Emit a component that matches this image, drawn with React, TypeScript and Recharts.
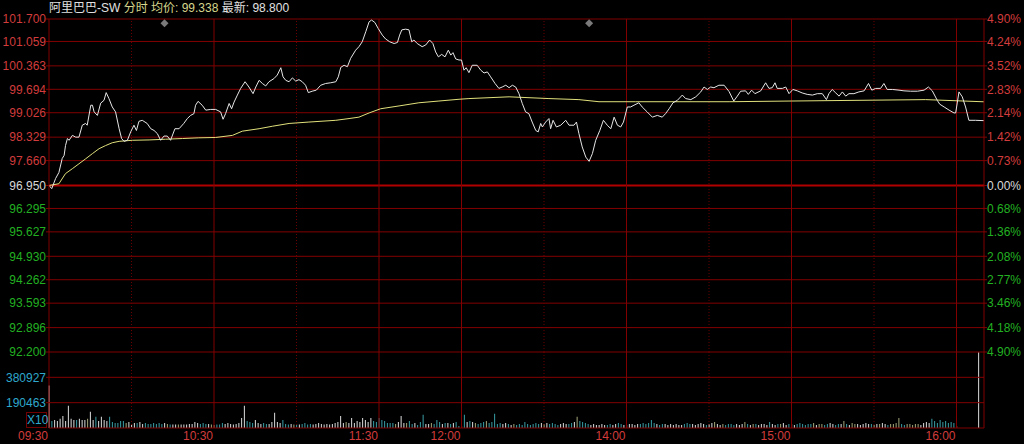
import {
  Bar,
  BarChart,
  Cell,
  ComposedChart,
  Line,
  ReferenceLine,
  Scatter,
  XAxis,
  YAxis,
} from "recharts";

// 分时图：阿里巴巴-SW，昨收 96.950
const prevClose = 96.95;
const avgNow = "99.338";
const lastNow = "98.800";

const priceTicks = [
  101.7, 101.059, 100.363, 99.694, 99.026, 98.329, 97.66, 96.95, 96.295, 95.627,
  94.93, 94.262, 93.593, 92.896, 92.2,
];
const volTicks = [190463, 380927];
const volMax = 571390;

// minutes since 09:30 (lunch break removed: 12:00 == 13:00 == 150)
const timeTicks = [0, 60, 120, 150, 210, 270, 330];
const timeLabels = ["09:30", "10:30", "11:30", "12:00", "14:00", "15:00", "16:00"];
const halfHourTicks = [30, 90, 180, 240, 300];
const eventMinutes = [42, 196.4];
const auctionMinute = 338;

const priceMinutes = [
  0, 1, 2.4, 3.6, 4.8, 5.5, 6, 6.7, 7.3, 8.5, 9.7, 10.9, 12.1, 13.3, 13.9, 15.2, 15.8,
  16.4, 17.6, 18.8, 20, 20.8, 21.8, 23, 24.2, 25.5, 26.4, 27.3, 28.5, 29.7, 30.9, 31.8,
  32.7, 33.9, 35.7, 37, 38.2, 39.4, 40.6, 41.8, 43, 44.2, 45.8, 47.3, 49, 50.3, 51.5,
  52.7, 53.3, 54.2, 55.7, 57, 58.8, 60.6, 62.4, 63.3, 64.2, 65.5, 66.4, 67.3, 68.5,
  69.7, 71.3, 72.7, 74.2, 75.2, 76.4, 77.6, 78.8, 80, 81.8, 83, 84.3, 85.1, 86.1, 87.3,
  88.5, 89.7, 90.9, 92.1, 93.3, 94.3, 95.7, 97.2, 98.8, 100.6, 102.4, 104.3, 105.2,
  106.1, 107.3, 108.5, 109.7, 111.5, 112.7, 113.9, 115.2, 116.4, 117.3, 118.5, 119.7,
  121.2, 122.4, 123.9, 125.5, 126.7, 127.5, 128.3, 129.7, 130.9, 131.9, 132.7, 133.9,
  135.7, 137, 138.4, 139.6, 140.6, 141.6, 142.8, 144, 145.2, 146.1, 146.9, 147.9, 149.1,
  150, 150.9, 151.7, 152.7, 153.9, 155.7, 157, 158.2, 159.4, 160.6, 162.2, 163.6, 164.8,
  166.1, 167.3, 168.5, 169.7, 170.9, 172.1, 173.3, 174.5, 175.7, 177, 177.9, 178.8,
  179.4, 180.6, 181.8, 182.4, 183.3, 184.5, 186.1, 187.9, 189.1, 190.9, 191.8, 192.7,
  193.9, 195.2, 196.4, 197.6, 198.8, 200.3, 201.6, 203, 204.3, 205.5, 206.7, 207.9,
  208.9, 210.3, 211.5, 212.7, 214.5, 215.7, 217.5, 219.4, 221.2, 223, 224.2, 225.5,
  226.9, 228.5, 230.3, 231.5, 233.4, 235.2, 237, 238.2, 239.4, 240.6, 241.8, 243.6,
  245.5, 247.3, 249, 250.3, 251.5, 253.3, 254.3, 255.5, 256.7, 258.8, 260.6, 261.8, 263,
  264, 264.8, 266.7, 267.9, 269.1, 270.5, 272.1, 273.9, 275.7, 277.6, 279.4, 281.2,
  282.7, 283.6, 284.8, 286.1, 287.3, 288.5, 289.7, 290.9, 292.7, 294.5, 296.4, 298,
  299.2, 300.6, 302.4, 303.6, 304.8, 306.7, 309.1, 310.9, 313.3, 315.8, 318.2, 319.8,
  321.2, 323, 323.9, 325.5, 327.3, 329.1, 329.7, 330.9, 332.1, 333.3, 334.5, 336.9, 340,
];
const priceValues = [
  96.95, 96.86, 97.15, 97.32, 97.72, 97.81, 98.09, 98.29, 98.24, 98.38, 98.33, 98.33,
  98.67, 98.72, 98.67, 99.24, 99.24, 99.05, 98.95, 99.3, 99.38, 99.6, 99.43, 99.19,
  99.05, 98.57, 98.29, 98.21, 98.24, 98.48, 98.67, 98.52, 98.78, 98.81, 98.72, 98.57,
  98.52, 98.43, 98.24, 98.36, 98.36, 98.24, 98.57, 98.57, 98.72, 98.86, 98.95, 99.0,
  99.24, 99.35, 99.24, 99.1, 99.12, 99.12, 99.05, 98.84, 99.0, 99.29, 99.14, 99.33,
  99.53, 99.72, 99.91, 99.76, 99.57, 99.76, 99.95, 99.86, 99.79, 99.91, 100.0, 100.1,
  100.31, 100.05, 99.95, 99.91, 100.02, 99.93, 99.97, 99.91, 99.81, 99.6, 99.64, 99.67,
  99.81, 99.86, 99.88, 99.91, 100.05, 100.32, 100.38, 100.34, 100.58, 100.81, 100.91,
  101.05, 101.34, 101.62, 101.67, 101.6, 101.43, 101.24, 101.13, 101.05, 101.0, 101.03,
  101.24, 101.39, 101.41, 101.39, 101.05, 101.1, 101.0, 100.91, 100.96, 101.1, 101.0,
  100.76, 100.62, 100.69, 100.62, 100.81, 100.67, 100.74, 100.56, 100.53, 100.53,
  100.24, 100.31, 100.17, 100.38, 100.38, 100.24, 100.16, 100.19, 100.05, 99.86, 99.72,
  99.76, 99.81, 99.74, 99.81, 99.76, 99.57, 99.29, 99.05, 99.0, 98.76, 98.52, 98.48,
  98.72, 98.62, 98.76, 98.86, 98.57, 98.81, 98.62, 98.67, 98.81, 98.67, 98.67, 98.76,
  98.43, 98.05, 97.76, 97.64, 97.86, 98.24, 98.52, 98.81, 98.67, 98.57, 98.9, 98.67,
  98.62, 98.76, 99.19, 99.19, 99.24, 99.31, 99.19, 99.05, 98.9, 98.95, 98.9, 99.0,
  99.14, 99.31, 99.38, 99.53, 99.43, 99.4, 99.48, 99.62, 99.76, 99.69, 99.76, 99.74,
  99.81, 99.81, 99.63, 99.36, 99.5, 99.64, 99.65, 99.55, 99.67, 99.57, 99.65, 99.88,
  99.72, 99.74, 99.88, 99.72, 99.72, 99.76, 99.57, 99.69, 99.65, 99.59, 99.55, 99.53,
  99.57, 99.57, 99.4, 99.57, 99.69, 99.59, 99.5, 99.62, 99.5, 99.57, 99.57, 99.62,
  99.65, 99.86, 99.67, 99.72, 99.72, 99.86, 99.69, 99.69, 99.67, 99.65, 99.64, 99.64,
  99.67, 99.76, 99.65, 99.38, 99.27, 99.19, 99.1, 99.02, 99.02, 99.62, 99.48, 99.19,
  98.81, 98.81, 98.8,
];

const avgMinutes = [
  0, 3.6, 6, 8.5, 10.9, 13.3, 15.8, 18.2, 20.6, 23, 25.5, 30.3, 36.4, 42.4, 48.5, 54.5,
  60.6, 66.7, 70.3, 76.4, 81.2, 87.3, 94.5, 104.3, 109.1, 112.7, 116.4, 120.6, 127.3,
  134.5, 141.8, 149.1, 152.7, 167.3, 181.8, 192.7, 200, 213.3, 247.3, 270, 318.8, 340,
];
const avgValues = [
  96.95, 97.0, 97.29, 97.43, 97.57, 97.71, 97.86, 98.0, 98.09, 98.17, 98.21, 98.24,
  98.25, 98.27, 98.29, 98.31, 98.32, 98.38, 98.5, 98.57, 98.64, 98.72, 98.76, 98.81,
  98.86, 98.9, 99.02, 99.14, 99.22, 99.31, 99.36, 99.41, 99.43, 99.48, 99.43, 99.4,
  99.34, 99.34, 99.34, 99.36, 99.4, 99.338,
];

// one bar per minute, 09:30 .. 16:10
const volumes = [
  320000, 53000, 61000, 53000, 69000, 91000, 53000, 168000, 69000, 61000,
  61000, 69000, 61000, 61000, 69000, 122000, 61000, 84000, 53000, 84000,
  61000, 53000, 84000, 46000, 38000, 38000, 53000, 53000, 38000, 46000,
  30000, 38000, 38000, 46000, 30000, 38000, 30000, 30000, 38000, 30000,
  38000, 30000, 38000, 30000, 27000, 27000, 27000, 27000, 27000, 27000,
  27000, 30000, 30000, 46000, 38000, 30000, 38000, 30000, 30000, 27000,
  23000, 27000, 27000, 38000, 30000, 38000, 30000, 27000, 30000, 38000,
  76000, 168000, 53000, 46000, 38000, 61000, 38000, 30000, 38000, 30000,
  30000, 46000, 114000, 46000, 38000, 61000, 30000, 27000, 30000, 27000,
  30000, 27000, 30000, 38000, 27000, 30000, 27000, 30000, 38000, 30000,
  27000, 30000, 27000, 30000, 38000, 46000, 91000, 38000, 46000, 38000,
  76000, 38000, 53000, 46000, 76000, 61000, 46000, 76000, 53000, 46000,
  76000, 61000, 53000, 38000, 38000, 38000, 30000, 46000, 91000, 38000,
  38000, 53000, 30000, 38000, 23000, 46000, 99000, 30000, 30000, 38000,
  30000, 61000, 46000, 30000, 38000, 38000, 30000, 38000, 46000, 15000,
  15000, 99000, 46000, 53000, 46000, 38000, 30000, 38000, 46000, 53000,
  38000, 46000, 107000, 30000, 38000, 30000, 38000, 30000, 23000, 30000,
  23000, 30000, 23000, 46000, 30000, 23000, 30000, 38000, 30000, 38000,
  30000, 38000, 30000, 38000, 30000, 23000, 30000, 38000, 30000, 30000,
  38000, 46000, 84000, 53000, 46000, 38000, 30000, 23000, 30000, 23000,
  23000, 30000, 23000, 23000, 30000, 23000, 30000, 38000, 30000, 23000,
  23000, 30000, 30000, 23000, 30000, 30000, 38000, 30000, 38000, 61000,
  38000, 30000, 23000, 30000, 30000, 23000, 30000, 23000, 30000, 23000,
  23000, 30000, 38000, 30000, 30000, 23000, 30000, 38000, 30000, 23000,
  30000, 38000, 46000, 30000, 23000, 30000, 23000, 30000, 30000, 23000,
  30000, 23000, 30000, 46000, 30000, 23000, 30000, 30000, 23000, 30000,
  30000, 23000, 46000, 30000, 23000, 30000, 30000, 38000, 23000, 30000,
  30000, 23000, 30000, 38000, 30000, 23000, 30000, 30000, 38000, 23000,
  30000, 30000, 23000, 30000, 38000, 30000, 23000, 30000, 30000, 53000,
  30000, 23000, 38000, 30000, 30000, 23000, 30000, 38000, 30000, 30000,
  23000, 30000, 30000, 38000, 30000, 23000, 30000, 30000, 38000, 76000,
  30000, 23000, 30000, 30000, 23000, 30000, 30000, 23000, 38000, 46000,
  38000, 69000, 53000, 38000, 61000, 46000, 53000, 38000, 46000, 38000,
  15000, 0, 0, 0, 0, 0, 0, 0, 570000, 0, 0,
];

const RED = "#d23c3c";
const GREEN = "#22b022";
const WHITE = "#d8d8d8";
const CYAN = "#2ea8cc";
const GRID = "#820000";
const FONT = "'Liberation Sans', Arial, 'Noto Sans CJK SC', sans-serif";

const priceData = priceMinutes.map((m, i) => ({ m, p: priceValues[i] }));
const avgData = avgMinutes.map((m, i) => ({ m, a: avgValues[i] }));
const eventData = eventMinutes.map((m) => ({ m, e: priceTicks[0] - 0.12 }));

const priceAt = (m: number) => {
  for (let i = 1; i < priceMinutes.length; i++) {
    if (m <= priceMinutes[i]) {
      const t = (m - priceMinutes[i - 1]) / (priceMinutes[i] - priceMinutes[i - 1]);
      return priceValues[i - 1] + t * (priceValues[i] - priceValues[i - 1]);
    }
  }
  return priceValues[priceValues.length - 1];
};
const volData = volumes.map((v, m) => ({ m, v }));
// 开盘/收盘竞价柱用白色，其余按涨跌着色
const barColor = (m: number) => {
  if (m === 0 || m === auctionMinute) return "#dcdcdc";
  const d = priceAt(m) - priceAt(m - 1);
  if (d > 0.01) return "#dcdcdc";
  if (d < -0.01) return "#3a9ea6";
  return "#a6a67a";
};

const sideColor = (v: number) =>
  v > prevClose + 1e-6 ? RED : v < prevClose - 1e-6 ? GREEN : WHITE;

const PriceTick = (props: any) => {
  const { x, y, payload, side } = props;
  const v = payload.value as number;
  const text =
    side === "left" ? v.toFixed(3) : Math.abs((v / prevClose - 1) * 100).toFixed(2) + "%";
  return (
    <text x={x} y={y} dy="0.36em" textAnchor={side === "left" ? "end" : "start"}
      fill={sideColor(v)} fontSize={12} fontFamily={FONT}>
      {text}
    </text>
  );
};

const TimeTick = (props: any) => {
  const { x, y, payload } = props;
  const i = timeTicks.indexOf(payload.value);
  return (
    <text x={x - 1} y={y + 12} textAnchor="end" fill={RED} fontSize={12} fontFamily={FONT}>
      {timeLabels[i]}
    </text>
  );
};

const Diamond = (props: any) => {
  const { cx, cy } = props;
  return (
    <polygon points={`${cx},${cy - 4} ${cx + 4},${cy} ${cx},${cy + 4} ${cx - 4},${cy}`} fill="#7a7a7a" />
  );
};

const verticalLines = (yAxisId: string) => [
  ...timeTicks.slice(1).map((t) => (
    <ReferenceLine key={"s" + t} x={t} yAxisId={yAxisId} stroke={GRID} strokeWidth={1} />
  )),
  ...halfHourTicks.map((t) => (
    <ReferenceLine key={"d" + t} x={t} yAxisId={yAxisId} stroke="#6a0000" strokeDasharray="1 2" />
  )),
];

export default function App() {
  return (
    <div style={{ position: "relative", width: 1024, height: 444, background: "#000", overflow: "hidden", fontFamily: FONT }}>
      <style>{"body{margin:0;background:#000}"}</style>
      <div style={{ position: "absolute", left: 49, top: 1, fontSize: 12, lineHeight: "15px", whiteSpace: "nowrap" }}>
        <span style={{ color: "#e0e0e0" }}>阿里巴巴-SW </span>
        <span style={{ color: "#d6d68e" }}>分时 均价: {avgNow} </span>
        <span style={{ color: "#e0e0e0" }}>最新: {lastNow}</span>
      </div>

      <div style={{ position: "absolute", left: 0, top: 352 }}>
        <BarChart width={1024} height={92} data={volData} margin={{ top: 0, right: 0, bottom: 0, left: 0 }}>
          <XAxis dataKey="m" type="number" domain={[0, 340]} ticks={timeTicks} interval={0} height={16}
            axisLine={{ stroke: GRID }} tickLine={false} tickSize={0} tickMargin={0} tick={<TimeTick />} />
          <YAxis yAxisId="v" domain={[0, volMax]} ticks={volTicks} width={49} interval={0}
            axisLine={{ stroke: GRID }} tickLine={{ stroke: GRID }} tickSize={3} tickMargin={0}
            tick={{ fill: CYAN, fontSize: 12, fontFamily: FONT }} allowDataOverflow />
          <YAxis yAxisId="vr" orientation="right" domain={[0, volMax]} width={40} tick={false}
            axisLine={{ stroke: GRID }} tickLine={false} />
          {volTicks.map((t) => (
            <ReferenceLine key={t} y={t} yAxisId="v" stroke={GRID} />
          ))}
          {verticalLines("v")}
          <Bar yAxisId="v" dataKey="v" barSize={1} isAnimationActive={false}>
            {volData.map((d) => (
              <Cell key={d.m} fill={barColor(d.m)} />
            ))}
          </Bar>
        </BarChart>
      </div>

      <div style={{ position: "absolute", left: 0, top: 0 }}>
        <ComposedChart width={1024} height={362} margin={{ top: 19, right: 0, bottom: 10, left: 0 }}>
          <XAxis dataKey="m" type="number" domain={[0, 340]} hide allowDuplicatedCategory={false} />
          <YAxis yAxisId="p" domain={[92.2, 101.7]} ticks={priceTicks} width={49} interval={0}
            axisLine={{ stroke: GRID }} tickLine={{ stroke: GRID }} tickSize={3} tickMargin={0}
            tick={<PriceTick side="left" />} allowDataOverflow />
          <YAxis yAxisId="r" orientation="right" domain={[92.2, 101.7]} ticks={priceTicks} width={40}
            interval={0} axisLine={{ stroke: GRID }} tickLine={{ stroke: GRID }} tickSize={3}
            tickMargin={0} tick={<PriceTick side="right" />} allowDataOverflow />
          {priceTicks.map((t) => (
            <ReferenceLine key={t} y={t} yAxisId="p" stroke={t === prevClose ? "#b00000" : GRID}
              strokeWidth={t === prevClose ? 2 : 1} />
          ))}
          {verticalLines("p")}
          <Line yAxisId="r" data={avgData} dataKey="a" stroke="#e0e07c" strokeWidth={1} dot={false}
            isAnimationActive={false} type="linear" />
          <Line yAxisId="p" data={priceData} dataKey="p" stroke="#e6e6e6" strokeWidth={1} dot={false}
            isAnimationActive={false} type="linear" />
          <Scatter yAxisId="p" data={eventData} dataKey="e" shape={<Diamond />} isAnimationActive={false} />
        </ComposedChart>
      </div>

      <div style={{ position: "absolute", left: 26, top: 412, width: 21, height: 16, border: "1px solid #700000",
        boxSizing: "border-box", color: CYAN, fontSize: 12, lineHeight: "14px", textAlign: "center" }}>
        X10
      </div>
    </div>
  );
}
